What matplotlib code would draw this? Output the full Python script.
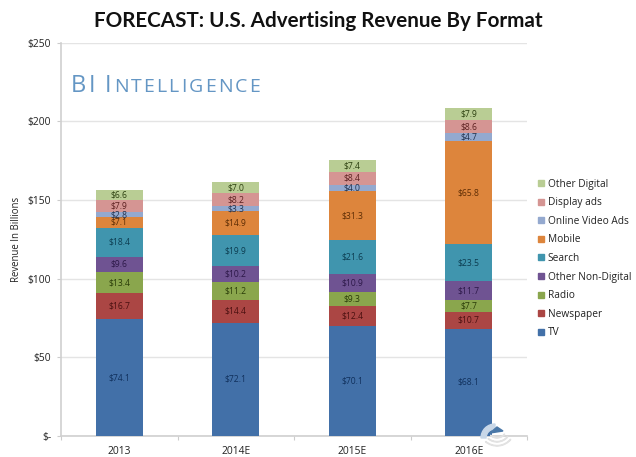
import matplotlib
matplotlib.use("Agg")
import matplotlib.pyplot as plt
from matplotlib.lines import Line2D
from matplotlib.patches import Polygon, Wedge
import numpy as np

years = ["2013", "2014E", "2015E", "2016E"]
tv = [74.1, 72.1, 70.1, 68.1]
newspaper = [16.7, 14.4, 12.4, 10.7]
radio = [13.4, 11.2, 9.3, 7.7]
other_non_digital = [9.6, 10.2, 10.9, 11.7]
search = [18.4, 19.9, 21.6, 23.5]
mobile = [7.1, 14.9, 31.3, 65.8]
online_video = [2.8, 3.3, 4.0, 4.7]
display_ads = [7.9, 8.2, 8.4, 8.6]
other_digital = [6.6, 7.0, 7.4, 7.9]

names = ["TV", "Newspaper", "Radio", "Other Non-Digital", "Search", "Mobile",
         "Online Video Ads", "Display ads", "Other Digital"]
series = [tv, newspaper, radio, other_non_digital, search, mobile,
          online_video, display_ads, other_digital]
colors = ["#4270a8", "#ab4644", "#8aa64d", "#6f5392", "#4095ae", "#dd853c",
          "#94a9cf", "#d59593", "#b9cd94"]
label_colors = ["#10305c", "#4a1010", "#2a3c08", "#2c1848", "#0c3c50", "#5c2c04",
                "#20304c", "#5c2020", "#2c4010"]

W, H = 636, 457
plt.rcParams["font.family"] = ["Open Sans", "DejaVu Sans"]
fig = plt.figure(figsize=(W / 100, H / 100), dpi=100, facecolor="white")
ax = fig.add_axes([61 / W, (H - 436) / H, 466 / W, 393.5 / H])
x = np.arange(len(years))
bottom = np.zeros(len(years))
for vals, name, c, lc in zip(series, names, colors, label_colors):
    vals = np.array(vals)
    ax.bar(x, vals, 0.4, bottom=bottom, color=c, label=name, zorder=3)
    for xi, b, v in zip(x, bottom, vals):
        ax.text(xi, b + v / 2, f"${v:.1f}", ha="center", va="center",
                fontsize=6.2, color=lc, zorder=4)
    bottom += vals

ax.set_xlim(-0.5, 3.5)
ax.set_ylim(0, 250)
ax.set_yticks([0, 50, 100, 150, 200, 250])
ax.set_yticklabels(["$-", "$50", "$100", "$150", "$200", "$250"], fontsize=7.4, color="#222222")
ax.set_xticks(x)
ax.set_xticklabels(years, fontsize=7.4, color="#222222")
ax.set_xticks(np.arange(-0.5, 4), minor=True)
ax.tick_params(axis="x", which="major", length=0, pad=7)
ax.tick_params(axis="x", which="minor", length=3, color="#cccccc", width=0.8)
ax.tick_params(axis="y", length=3, color="#cccccc", width=0.8, pad=4)
ax.grid(axis="y", color="#e4e4e4", lw=1, zorder=0)
ax.set_axisbelow(True)
for s in ("top", "right"):
    ax.spines[s].set_visible(False)
for s in ("left", "bottom"):
    ax.spines[s].set_color("#d0d0d0")
    ax.spines[s].set_linewidth(1.2)
ax.set_ylabel("Revenue In Billions", fontsize=6.9, color="#222222")
ax.yaxis.set_label_coords((22 - 61) / 466, 0.5)

fig.text(318 / W, (H - 21) / H, "FORECAST: U.S. Advertising Revenue By Format",
         ha="center", va="center", fontsize=14.85, fontweight="bold", color="#111111",
         family="Lato")

# small-caps brand text, tracked letter by letter
blue = "#6496c4"
renderer = fig.canvas.get_renderer()
px = 71.0
brand = [("B", 17), ("I", 17), (" ", 17), ("I", 17)] + [(ch, 14) for ch in "NTELLIGENCE"]
for ch, size in brand:
    if ch == " ":
        px += 8
        continue
    t = fig.text(px / W, (H - 92) / H, ch, fontsize=size, color=blue, ha="left",
                 va="baseline", fontweight="medium")
    px = t.get_window_extent(renderer).x1 + 2.1

handles = [Line2D([], [], marker="s", ls="", ms=4.6, color=c, label=n)
           for c, n in zip(colors, names)][::-1]
leg = fig.legend(handles=handles, loc="center left", bbox_to_anchor=(534 / W, (H - 258.5) / H),
                 frameon=False, fontsize=7.3, labelspacing=0.75, handletextpad=-0.05,
                 handlelength=1.4, borderpad=0, borderaxespad=0, labelcolor="#222222")

# watermark
ov = fig.add_axes([0, 0, 1, 1], facecolor="none")
ov.set_xlim(0, W); ov.set_ylim(H, 0); ov.axis("off")
ov.add_patch(Wedge((495, 438), 14, 180, 270, width=5, color="#c8d7e8", zorder=5))
ov.add_patch(Polygon([[490, 433], [503, 431], [497, 427]], color="#4a78a8", zorder=6))
for r in (10, 14, 18):
    ov.add_patch(Wedge((497, 428), r, 40, 130, width=0.5, color="#e2e2e2", zorder=5))

fig.savefig("out.png", dpi=100, facecolor="white")
